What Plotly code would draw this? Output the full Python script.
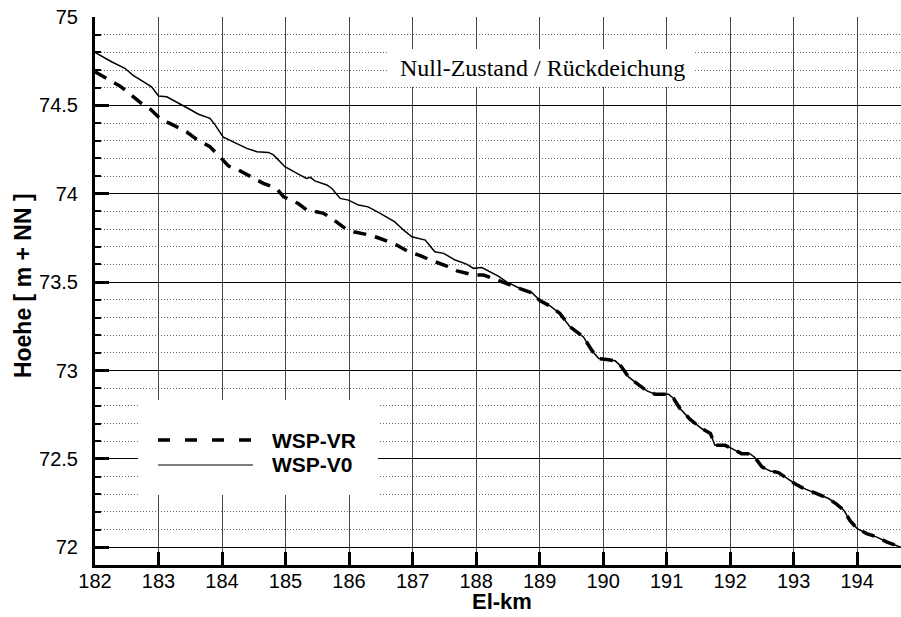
import plotly.graph_objects as go

# ---- data ----
km_v0 = [182.0, 182.26, 182.47, 182.60, 182.76, 182.89, 183.0, 183.13, 183.39, 183.63,
         183.81, 183.89, 184.02, 184.18, 184.39, 184.55, 184.73, 184.81, 184.99, 185.18,
         185.33, 185.39, 185.46, 185.65, 185.73, 185.86, 185.99, 186.15, 186.30, 186.49,
         186.72, 186.86, 186.99, 187.20, 187.28, 187.35, 187.49, 187.67, 187.85, 187.96,
         188.09, 188.25, 188.35, 188.48, 188.69, 188.88, 189.01, 189.17, 189.32, 189.48,
         189.61, 189.69, 189.82, 189.93, 190.06, 190.19, 190.29, 190.40, 190.53, 190.69,
         190.82, 191.03, 191.11, 191.21, 191.37, 191.55, 191.69, 191.76, 191.82, 191.92,
         192.0, 192.18, 192.31, 192.39, 192.50, 192.63, 192.76, 192.89, 193.02, 193.13,
         193.26, 193.39, 193.55, 193.68, 193.79, 193.89, 194.0, 194.15, 194.31, 194.47,
         194.69]
wsp_v0 = [74.80, 74.747, 74.71, 74.67, 74.634, 74.605, 74.553, 74.549, 74.498, 74.45,
          74.427, 74.39, 74.32, 74.294, 74.257, 74.238, 74.234, 74.22, 74.153, 74.115,
          74.087, 74.093, 74.073, 74.05, 74.03, 73.974, 73.964, 73.936, 73.926, 73.889,
          73.841, 73.794, 73.757, 73.738, 73.70, 73.672, 73.663, 73.625, 73.602, 73.578,
          73.583, 73.553, 73.534, 73.502, 73.464, 73.44, 73.394, 73.364, 73.323, 73.247,
          73.21, 73.19, 73.115, 73.068, 73.062, 73.055, 73.021, 72.964, 72.927, 72.885,
          72.866, 72.866, 72.842, 72.785, 72.724, 72.672, 72.644, 72.577, 72.577, 72.577,
          72.564, 72.53, 72.53, 72.508, 72.455, 72.432, 72.423, 72.389, 72.36, 72.338,
          72.319, 72.298, 72.276, 72.243, 72.21, 72.149, 72.106, 72.078, 72.058, 72.03,
          72.0]

km_vr = [182.0, 182.13, 182.39, 182.52, 182.73, 182.87, 183.05, 183.18, 183.44, 183.60,
         183.81, 183.94, 184.10, 184.26, 184.49, 184.65, 184.86, 184.97, 185.20, 185.33,
         185.60, 185.73, 185.94, 186.07, 186.33, 186.49, 186.75, 186.91, 187.14, 187.28,
         187.54, 187.70, 187.96, 188.12, 188.38, 188.54,
         188.69, 188.88, 189.01, 189.17, 189.32, 189.48,
         189.61, 189.69, 189.82, 189.93, 190.06, 190.19, 190.29, 190.40, 190.53, 190.69,
         190.82, 191.03, 191.11, 191.21, 191.37, 191.55, 191.69, 191.76, 191.82, 191.92,
         192.0, 192.18, 192.31, 192.39, 192.50, 192.63, 192.76, 192.89, 193.02, 193.13,
         193.26, 193.39, 193.55, 193.68, 193.79, 193.89, 194.0, 194.15, 194.31, 194.47,
         194.69]
wsp_vr = [74.69, 74.662, 74.61, 74.574, 74.511, 74.479, 74.417, 74.398, 74.351, 74.308,
          74.266, 74.219, 74.158, 74.134, 74.087, 74.059, 74.03, 73.983, 73.945, 73.91,
          73.889, 73.86, 73.804, 73.785, 73.766, 73.747, 73.71, 73.677, 73.647, 73.625,
          73.591, 73.564, 73.54, 73.54, 73.506, 73.483,
          73.464, 73.44, 73.394, 73.364, 73.323, 73.247,
          73.21, 73.19, 73.115, 73.068, 73.062, 73.055, 73.021, 72.964, 72.927, 72.885,
          72.866, 72.866, 72.842, 72.785, 72.724, 72.672, 72.644, 72.577, 72.577, 72.577,
          72.564, 72.53, 72.53, 72.508, 72.455, 72.432, 72.423, 72.389, 72.36, 72.338,
          72.319, 72.298, 72.276, 72.243, 72.21, 72.149, 72.106, 72.078, 72.058, 72.03,
          72.0]

x_ticks = [182, 183, 184, 185, 186, 187, 188, 189, 190, 191, 192, 193, 194]
x_ticktext = [str(v) for v in x_ticks]
y_ticks = [72, 72.5, 73, 73.5, 74, 74.5, 75]
y_ticktext = ["72", "72.5", "73", "73.5", "74", "74.5", "75"]

series_names = ["WSP-VR", "WSP-V0"]
title_text = "Null-Zustand / Rückdeichung"
x_title = "El-km"
y_title = "Hoehe [ m + NN ]"

SANS = "Liberation Sans, Arial, sans-serif"
SERIF = "Liberation Serif, Times New Roman, serif"

fig = go.Figure()
fig.add_trace(go.Scatter(x=km_vr, y=wsp_vr, mode="lines", name=series_names[0],
                         line=dict(color="black", width=3.5, dash="13px,9px"),
                         showlegend=False))
fig.add_trace(go.Scatter(x=km_v0, y=wsp_v0, mode="lines", name=series_names[1],
                         line=dict(color="black", width=1.5),
                         showlegend=False))

# white boxes for the label and the legend (cover the grid)
fig.add_shape(type="rect", xref="paper", yref="paper",
              x0=0.3635, x1=0.7444, y0=0.8723, y1=0.9416,
              fillcolor="white", line=dict(width=0), layer="above")
fig.add_shape(type="rect", xref="paper", yref="paper",
              x0=0.0533, x1=0.3511, y0=0.1277, y1=0.3011,
              fillcolor="white", line=dict(width=0), layer="above")
# legend sample lines
fig.add_shape(type="line", xref="paper", yref="paper",
              x0=0.0782, x1=0.1960, y0=0.2281, y1=0.2281,
              line=dict(color="black", width=3.5, dash="12px,15px"), layer="above")
fig.add_shape(type="line", xref="paper", yref="paper",
              x0=0.0782, x1=0.1960, y0=0.1825, y1=0.1825,
              line=dict(color="black", width=1.2), layer="above")

fig.add_annotation(xref="paper", yref="paper", x=0.2171, y=0.2281,
                   xanchor="left", yanchor="middle", showarrow=False,
                   text="<b>%s</b>" % series_names[0],
                   font=dict(family=SANS, size=21, color="black"))
fig.add_annotation(xref="paper", yref="paper", x=0.2171, y=0.1825,
                   xanchor="left", yanchor="middle", showarrow=False,
                   text="<b>%s</b>" % series_names[1],
                   font=dict(family=SANS, size=21, color="black"))
fig.add_annotation(xref="paper", yref="paper", x=0.5558, y=0.9069,
                   xanchor="center", yanchor="middle", showarrow=False,
                   text=title_text,
                   font=dict(family=SERIF, size=24, color="black"))
# axis titles
fig.add_annotation(xref="paper", yref="paper", x=0.505, y=-0.066,
                   xanchor="center", yanchor="middle", showarrow=False,
                   text="<b>%s</b>" % x_title,
                   font=dict(family=SANS, size=22, color="black"))
fig.add_annotation(xref="paper", yref="paper", x=-0.0893, y=0.509,
                   xanchor="center", yanchor="middle", showarrow=False,
                   textangle=-90,
                   text="<b>%s</b>" % y_title,
                   font=dict(family=SANS, size=23, color="black"))

fig.update_layout(
    width=901, height=617,
    margin=dict(l=95, r=0, t=17, b=52, autoexpand=False),
    paper_bgcolor="white", plot_bgcolor="white",
    showlegend=False,
    font=dict(family=SANS, size=20, color="black"),
)

fig.update_xaxes(
    range=[182, 194.69], automargin=False,
    tickvals=x_ticks, ticktext=x_ticktext,
    ticks="inside", ticklen=13, tickwidth=3, tickcolor="black",
    showline=True, linewidth=3, linecolor="black",
    showgrid=True, gridcolor="#444444", gridwidth=1.2,
    zeroline=False,
    tickfont=dict(family=SANS, size=20, color="black"),
    ticklabelstandoff=-4,
)
fig.update_yaxes(
    range=[71.9, 75], automargin=False,
    tickvals=y_ticks, ticktext=y_ticktext,
    ticks="inside", ticklen=14, tickwidth=3, tickcolor="black",
    showline=True, linewidth=3, linecolor="black",
    showgrid=True, gridcolor="black", gridwidth=1,
    zeroline=False,
    tickfont=dict(family=SANS, size=20, color="black"),
    ticklabelstandoff=10,
    minor=dict(dtick=0.1, tick0=72, ticks="inside", ticklen=6, tickwidth=2,
               tickcolor="black", showgrid=True, gridcolor="#666666",
               gridwidth=1, griddash="1px,2px"),
)

fig.write_html(
    "out.html",
    config={"displayModeBar": False},
    post_script="document.body.style.margin='0';document.body.style.overflow='hidden';",
)
